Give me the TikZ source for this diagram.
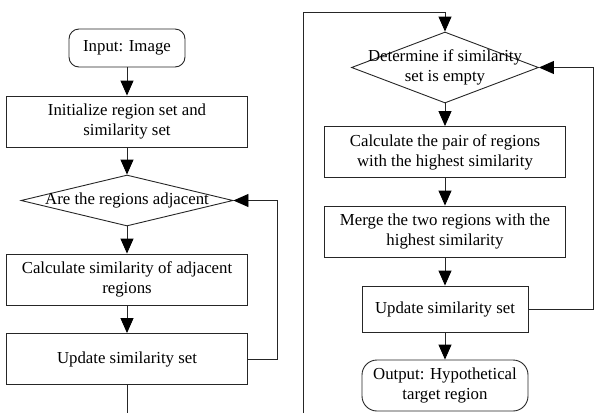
\documentclass[tikz,border=0pt]{standalone}
\usepackage{fontspec}
\setmainfont{Liberation Serif}
\usetikzlibrary{arrows.meta}
\usetikzlibrary{shapes.geometric}

\tikzset{
  box/.style={draw=black!85, rectangle, minimum width=241pt, minimum height=51pt,
    inner sep=0pt, align=center},
  term/.style={box, rounded corners=10pt},
  test/.style={draw=black!85, diamond, inner sep=0pt, minimum width=212pt, minimum height=51pt},
  flow/.style={-{Triangle[width=13pt,length=15pt,black]}},
}

\begin{document}
\begin{tikzpicture}[x=1pt, y=-1pt, line width=0.9pt, draw=black!85,
  font=\fontsize{16.8}{20}\selectfont]
\useasboundingbox (0,0) rectangle (595,413);

% left column
\node[term, minimum width=116pt, minimum height=38pt] (input) at (127,48) {Input: Image};
\node[box] (init) at (127,121.5) {Initialize region set and\\similarity set};
\node[test, label=center:{Are the regions adjacent}] (adj) at (127,200.5) {};
\node[box] (calc) at (127,279.5) {Calculate similarity of adjacent\\regions};
\node[box] (upd) at (127,359) {Update similarity set};
\coordinate (out) at (127,413);

% right column
\coordinate (in) at (303,413);
\coordinate (top) at (445,12);
\node[test, minimum width=187pt, minimum height=71pt,
  label={[align=center]center:{Determine if similarity\\set is empty}}] (empty) at (445,67.5) {};
\node[box] (pair) at (445,152) {Calculate the pair of regions\\with the highest similarity};
\node[box] (merge) at (445,231.5) {Merge the two regions with the\\highest similarity};
\node[box, minimum width=166pt, minimum height=46pt] (upd2) at (445,309) {Update similarity set};
\node[term, minimum width=166pt, minimum height=51pt, rounded corners=15pt] (output)
  at (445,385.5) {Output: Hypothetical\\target region};

\draw[flow] (input) -- (init);
\draw[flow] (init) -- (adj);
\draw[flow] (adj) -- (calc);
\draw[flow] (calc) -- (upd);
\draw (upd) -- (out);
\draw[flow] (upd.east) -- ++(29,0) |- (adj.east);

\draw[flow] (in) |- (top) -- (empty.north);
\draw[flow] (empty) -- (pair);
\draw[flow] (pair) -- (merge);
\draw[flow] (merge) -- (upd2);
\draw[flow] (upd2) -- (output);
\draw[flow] (upd2.east) -- ++(65,0) |- (empty.east);
\end{tikzpicture}
\end{document}
